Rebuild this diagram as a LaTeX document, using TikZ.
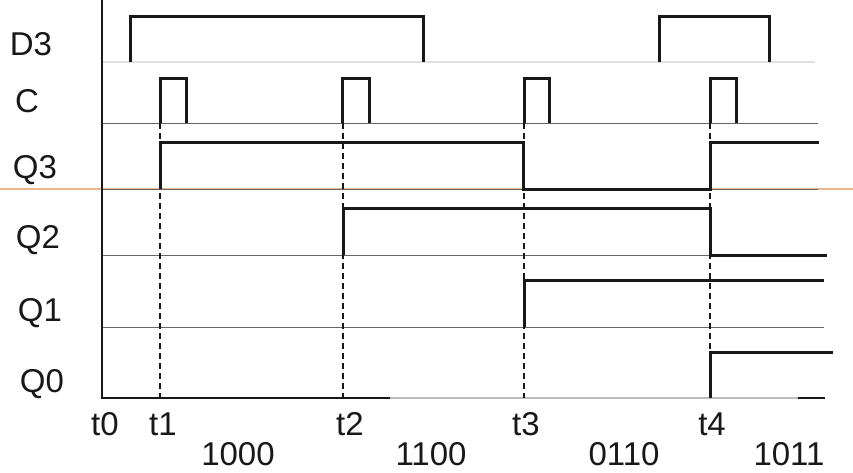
\documentclass[tikz,border=0pt]{standalone}
\usepackage{fontspec}
\setmainfont{Liberation Sans}
\definecolor{sigc}{HTML}{1A1718}
\definecolor{basec}{HTML}{666666}
\definecolor{paleline}{HTML}{E0E0E0}
\definecolor{orangec}{HTML}{E8B890}
\definecolor{axisc}{HTML}{BDBDBD}
\begin{document}
\begin{tikzpicture}[x=1pt,y=-1pt,
  sig/.style={line width=3pt, draw=sigc, line join=miter},
  baseline/.style={line width=1pt, draw=basec},
  guide/.style={line width=1.6pt, draw=sigc, dash pattern=on 6pt off 4pt},
  axisline/.style={line width=1.5pt, draw=sigc},
  lbl/.style={font=\fontsize{33}{38}\selectfont, anchor=base, inner sep=0pt, text=sigc}]
\useasboundingbox (0,0) rectangle (853,472);
\fill[white] (0,0) rectangle (853,472);
% reference lines
\draw[line width=1.2pt, draw=orangec] (0,189) -- (853,189);
\draw[line width=2pt, draw=paleline] (102,62) -- (815,62);
\draw[baseline] (102,123) -- (818,123);
\draw[baseline] (102,189) -- (818,189);
\draw[baseline] (102,255) -- (827,255);
\draw[baseline] (102,327) -- (824,327);
% axes
\draw[axisline] (102,0) -- (102,398) -- (390,398);
\draw[line width=1.2pt, draw=axisc] (390,398) -- (798,398);
\draw[axisline] (798,398) -- (825,398);
% guides
\foreach \x in {160,343,524,710} \draw[guide] (\x,123) -- (\x,398);
% D3
\draw[sig] (130,62) -- (130,16) -- (423,16) -- (423,62);
\draw[sig] (659,62) -- (659,16) -- (769,16) -- (769,62);
% C
\foreach \a/\b in {160/186,342/369,524/549,710/736}
  \draw[sig] (\a,123) -- (\a,78) -- (\b,78) -- (\b,123);
% Q3
\draw[sig] (160,189) -- (160,142) -- (523,142) -- (523,189) -- (710,189) -- (710,142) -- (819,142);
% Q2
\draw[sig] (343,255) -- (343,208) -- (710,208) -- (710,255) -- (827,255);
% Q1
\draw[sig] (524,327) -- (524,280) -- (824,280);
% Q0
\draw[sig] (710,398) -- (710,352) -- (833,352);
% labels
\node[lbl] (lD3) at (31,55) {D3};
\node[lbl] (lC) at (27,112) {C};
\node[lbl] (lQ3) at (35,178) {Q3};
\node[lbl] (lQ2) at (38,248) {Q2};
\node[lbl] (lQ1) at (40,321) {Q1};
\node[lbl] (lQ0) at (42,392) {Q0};
\node[lbl] (t0) at (105,435) {t0};
\node[lbl] (t1) at (163,435) {t1};
\node[lbl] (t2) at (350,435) {t2};
\node[lbl] (t3) at (526,435) {t3};
\node[lbl] (t4) at (712,435) {t4};
\node[lbl] (s1) at (238,465) {1000};
\node[lbl] (s2) at (431,465) {1100};
\node[lbl] (s3) at (624,465) {0110};
\node[lbl] (s4) at (789,465) {1011};
\end{tikzpicture}
\end{document}
